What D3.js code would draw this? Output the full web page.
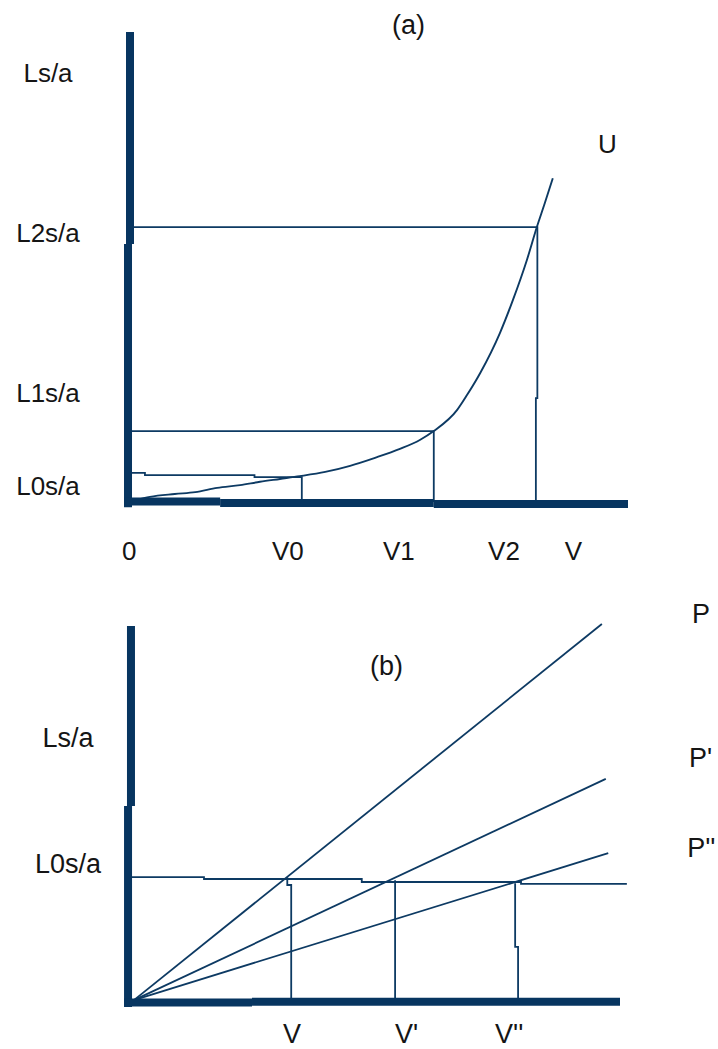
<!DOCTYPE html>
<html>
<head>
<meta charset="utf-8">
<script src="https://cdn.jsdelivr.net/npm/d3@7"></script>
<style>
  body { margin: 0; background: #fff; }
  text { font-family: 'Liberation Sans', Arial, sans-serif; fill: #151515; }
</style>
</head>
<body>
<svg id="chart"></svg>
<script>
const W = 718
const H = 1049

/// data: panel (a) ////////////////////////////////
// U curve (x = V, y = L s/a, 0..100 units)
const uCurve = [
  [1.0, 0.4], [4.0, 1.1], [9.0, 1.7], [13.1, 2.1], [17.5, 3.0], [22.1, 3.6],
  [26.1, 4.3], [30.1, 4.9], [34.1, 5.5], [39.2, 6.4], [44.2, 7.7], [49.2, 9.4],
  [54.2, 11.3], [58.2, 13.2], [61.0, 15.1], [65.7, 19.6], [67.7, 22.8],
  [70.3, 27.4], [74.3, 36.0], [76.9, 43.0], [79.7, 51.5], [81.7, 58.5],
  [83.3, 63.6], [84.9, 68.9]
]
// guide lines (level -> V) as drawn, small steps included
const guidesA = [
  [[0, 6.2], [3, 6.2], [3, 5.7], [25, 5.7], [25, 5.3], [34.5, 5.3], [34.5, 0]],
  [[0, 15.1], [61.0, 15.1], [61.0, 0]],
  [[0, 58.5], [81.8, 58.5], [81.8, 22.1], [81.5, 22.1], [81.5, 0]]
]
const yLabelsA = ['Ls/a', 'L2s/a', 'L1s/a', 'L0s/a']
const yLabelValsA = [89.4, 55.3, 21.3, 1.5]
const xLabelsA = ['0', 'V0', 'V1', 'V2', 'V']
const xLabelValsA = [-1.6, 28.5, 50.8, 71.9, 87.3]
// thick axes as segments [x0, y0, x1, y1]
const axisA = [
  [0, 100, 0, 54.9], [-0.4, 54.9, -0.4, -1.1],
  [-1.2, 0.1, 18.1, 0.1], [18.1, -0.2, 61.0, -0.2], [61.0, -0.4, 100, -0.4]
]

/// data: panel (b) ////////////////////////////////
const pNames = ['P', "P'", "P''"]
const pLines = [
  [[0.8, 0.5], [96.3, 100.8]],
  [[0.8, 0.5], [97.1, 59.5]],
  [[0.8, 0.5], [97.6, 39.7]]
]
const pLabelPos = [[114.7, 101.1], [114.1, 62.7], [113.7, 38.7]]
const levelB = [
  [0.4, 33.3], [15.1, 33.3], [15.1, 32.8], [47.3, 32.8], [47.3, 32.0],
  [79.8, 32.0], [79.8, 31.5], [101.4, 31.5]
]
const dropsB = [
  [[32.1, 33.3], [32.1, 31.2], [32.9, 31.2], [32.9, 0]],
  [[54.1, 32.5], [54.1, 0]],
  [[78.6, 31.7], [78.6, 14.7], [79.2, 14.7], [79.2, 0]]
]
const yLabelsB = ['Ls/a', 'L0s/a']
const yLabelValsB = [68, 34.4]
const xLabelsB = ['V', "V'", "V''"]
const xLabelValsB = [31.2, 54.1, 74.5]
const axisB = [
  [0.2, 100.3, 0.2, 52.3], [-0.4, 52.3, -0.4, -1.3],
  [-1.2, -0.1, 24.9, -0.1], [24.9, 0.1, 100, 0.1]
]

/// colors ////////////////////////////////
const navy = '#0d3a63'
const axisNavy = '#073560'

/// scales ////////////////////////////////
const xA = d3.scaleLinear().domain([0, 100]).range([130, 628])
const yA = d3.scaleLinear().domain([0, 100]).range([502, 32])
const xB = d3.scaleLinear().domain([0, 100]).range([130, 620])
const yB = d3.scaleLinear().domain([0, 100]).range([1002, 627])

const svg = d3.select('#chart').attr('width', W).attr('height', H)

function panel(g, x, y, opts) {
  const line = d3.line().x(d => x(d[0])).y(d => y(d[1]))
  const smooth = d3.line().x(d => x(d[0])).y(d => y(d[1])).curve(d3.curveMonotoneX)

  // thin lines
  opts.thin.forEach(pts => {
    g.append('path')
      .attr('d', line(pts))
      .attr('fill', 'none')
      .attr('stroke', navy)
      .attr('stroke-width', 1.8)
  })
  if (opts.curve) {
    g.append('path')
      .attr('d', smooth(opts.curve))
      .attr('fill', 'none')
      .attr('stroke', navy)
      .attr('stroke-width', 1.9)
  }

  // thick axes
  g.selectAll('.axis-seg')
    .data(opts.axis)
    .enter()
    .append('line')
    .attr('class', 'axis-seg')
    .attr('x1', d => x(d[0]))
    .attr('y1', d => y(d[1]))
    .attr('x2', d => x(d[2]))
    .attr('y2', d => y(d[3]))
    .attr('stroke', axisNavy)
    .attr('stroke-width', 8)

  // y labels
  g.selectAll('.ylab')
    .data(opts.yLabels)
    .enter()
    .append('text')
    .attr('class', 'ylab')
    .attr('x', opts.yLabelX)
    .attr('y', (d, i) => y(opts.yVals[i]))
    .attr('text-anchor', 'middle')
    .attr('font-size', opts.fs)
    .text(d => d)

  // x labels
  g.selectAll('.xlab')
    .data(opts.xLabels)
    .enter()
    .append('text')
    .attr('class', 'xlab')
    .attr('x', (d, i) => x(opts.xVals[i]))
    .attr('y', opts.xLabelY)
    .attr('font-size', opts.fs)
    .text(d => d)
}

const gA = svg.append('g')
panel(gA, xA, yA, {
  thin: guidesA,
  curve: uCurve,
  axis: axisA,
  yLabels: yLabelsA, yVals: yLabelValsA, yLabelX: 48,
  xLabels: xLabelsA, xVals: xLabelValsA, xLabelY: 560,
  fs: 26
})
gA.append('text').attr('x', xA(52.6)).attr('y', yA(99.6)).attr('font-size', 27).text('(a)')
gA.append('text').attr('x', xA(94)).attr('y', yA(74.3)).attr('font-size', 26).text('U')

const gB = svg.append('g')
panel(gB, xB, yB, {
  thin: pLines.concat([levelB], dropsB),
  axis: axisB,
  yLabels: yLabelsB, yVals: yLabelValsB, yLabelX: 68,
  xLabels: xLabelsB, xVals: xLabelValsB, xLabelY: 1043,
  fs: 27
})
gB.append('text').attr('x', xB(49)).attr('y', yB(87.2)).attr('font-size', 27).text('(b)')
gB.selectAll('.plab')
  .data(pNames)
  .enter()
  .append('text')
  .attr('class', 'plab')
  .attr('x', (d, i) => xB(pLabelPos[i][0]))
  .attr('y', (d, i) => yB(pLabelPos[i][1]))
  .attr('font-size', 27)
  .text(d => d)
</script>
</body>
</html>
